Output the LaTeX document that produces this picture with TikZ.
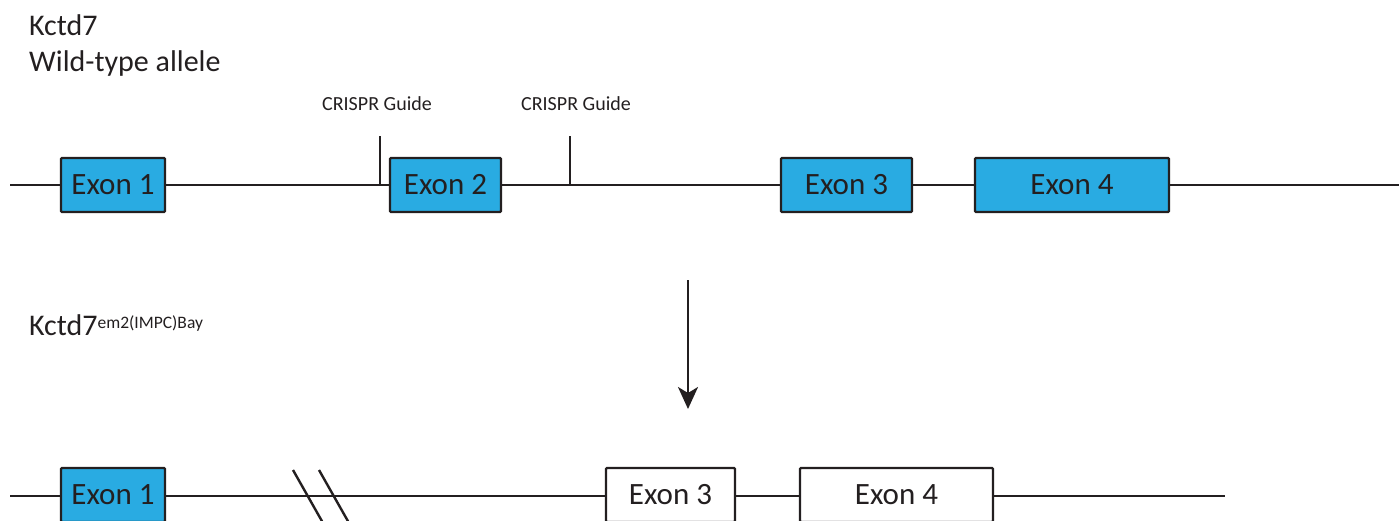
\documentclass[tikz,border=0pt]{standalone}
\usepackage{fontspec}
\setmainfont{Carlito}
\usetikzlibrary{arrows.meta}
\definecolor{exonblue}{HTML}{29ABE2}
\definecolor{ink}{HTML}{231F20}
\tikzset{
  exon/.style={draw=ink, line width=2.4pt, fill=exonblue, rounded corners=1pt, inner sep=0pt, font=\fontsize{31}{33}\selectfont, text=ink},
  wexon/.style={exon, fill=white},
  dna/.style={draw=ink, line width=2.4pt},
  lbl/.style={font=\fontsize{30}{34}\selectfont, text=ink, inner sep=0pt},
  small/.style={font=\fontsize{20}{22}\selectfont, text=ink, inner sep=0pt}
}
\begin{document}
\begin{tikzpicture}[x=1pt,y=-1pt]
\useasboundingbox (0,0) rectangle (1399,521);
% titles
\node[lbl, anchor=base west] (t1) at (29,36) {Kctd7};
\node[lbl, anchor=base west] (t2) at (29,72) {Wild-type allele};
\node[lbl, anchor=base west] (t3) at (29,335) {Kctd7\raisebox{7pt}{\fontsize{17.5}{19}\selectfont em2(IMPC)Bay}};
% top allele
\coordinate (L1) at (10,185);
\coordinate (R1) at (1399,185);
\node[exon, minimum width=104pt, minimum height=54pt] (e1) at (113,185) {Exon 1};
\node[exon, minimum width=111pt, minimum height=54pt] (e2) at (445.5,185) {Exon 2};
\node[exon, minimum width=131pt, minimum height=54pt] (e3) at (846.5,185) {Exon 3};
\node[exon, minimum width=194pt, minimum height=54pt] (e4) at (1072,185) {Exon 4};
\draw[dna] (L1) -- (e1.west);
\draw[dna] (e1.east) -- (e2.west);
\draw[dna] (e2.east) -- (e3.west);
\draw[dna] (e3.east) -- (e4.west);
\draw[dna] (e4.east) -- (R1);
% guides
\coordinate (g1b) at (380,185);
\coordinate (g1t) at (380,136);
\coordinate (g2b) at (570,185);
\coordinate (g2t) at (570,136);
\draw[dna] (g1b) -- (g1t);
\draw[dna] (g2b) -- (g2t);
\node[small, anchor=base] (c1) at (377,111) {CRISPR Guide};
\node[small, anchor=base] (c2) at (576,111) {CRISPR Guide};
% arrow
\coordinate (a1) at (688,280);
\coordinate (a2) at (688,409);
\draw[dna, -{Stealth[length=22pt,width=20pt,inset=6pt]}] (a1) -- (a2);
% bottom allele
\coordinate (L2) at (10,496);
\coordinate (R2) at (1225,496);
\node[exon, minimum width=104pt, minimum height=54pt] (f1) at (113,495) {Exon 1};
\node[wexon, minimum width=129pt, minimum height=54pt] (f3) at (670.5,495) {Exon 3};
\node[wexon, minimum width=193pt, minimum height=54pt] (f4) at (896.5,495) {Exon 4};
\draw[dna] (L2) -- (f1.west |- L2);
\draw[dna] (f1.east |- L2) -- (f3.west |- L2);
\draw[dna] (f3.east |- L2) -- (f4.west |- L2);
\draw[dna] (f4.east |- L2) -- (R2);
% break marks
\coordinate (b1a) at (293,470);
\coordinate (b1b) at (323,523);
\coordinate (b2a) at (319,470);
\coordinate (b2b) at (349,523);
\draw[dna] (b1a) -- (b1b);
\draw[dna] (b2a) -- (b2b);
\end{tikzpicture}
\end{document}
